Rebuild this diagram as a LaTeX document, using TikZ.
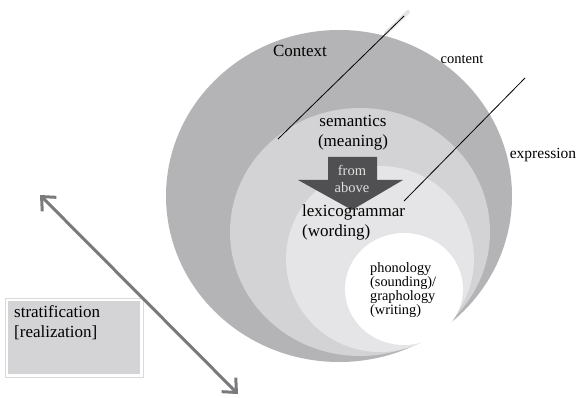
\documentclass[tikz,border=0pt]{standalone}
\usepackage{fontspec}
\setmainfont{Liberation Serif}
\usetikzlibrary{arrows.meta}
\definecolor{ctxgray}{RGB}{180,180,182}
\definecolor{semgray}{RGB}{211,211,213}
\definecolor{lexgray}{RGB}{229,229,231}
\definecolor{boxgray}{RGB}{212,212,214}
\definecolor{arrgray}{RGB}{122,122,124}
\definecolor{fromgray}{RGB}{80,80,82}
\begin{document}
\begin{tikzpicture}[x=1pt,y=-1pt,
    lbl/.style={inner sep=0pt,align=left},
    big/.style={font=\fontsize{17}{20}\selectfont},
    small/.style={font=\fontsize{14.5}{17}\selectfont}]
    \useasboundingbox (0,0) rectangle (578,398);
    % strata
    \fill [ctxgray] (339,196) ellipse [x radius=173,y radius=166];
    \fill [semgray] (360,232) ellipse [x radius=130,y radius=124];
    \fill [lexgray] (380,259) ellipse [x radius=94,y radius=93];
    \fill [white] (404,289) ellipse [x radius=59,y radius=56];

    % content / expression lines
    \coordinate (c1) at (278,139);
    \coordinate (c2) at (404,16);
    \coordinate (e1) at (404,201);
    \coordinate (e2) at (525,78);
    \draw [line width=4pt,gray!20,line cap=round] (386,33) -- (408,12);
    \draw [line width=0.8pt] (c1) -- (c2);
    \draw [line width=0.8pt] (e1) -- (e2);

    % from above
    \fill [fromgray] (328,157) -- (377,157) -- (377,180) -- (403,180) -- (352,210)
        -- (298,180) -- (328,180) -- cycle;
    \node [lbl,small,text=gray!25] (from) at (352,170) {from};
    \node [lbl,small,text=gray!25] (above) at (352,188) {above};

    \node [lbl,big] (ctx) at (300,51) {Context};
    \node [lbl,small] (cont) at (462,59) {content};
    \node [lbl,font=\fontsize{15.5}{18}\selectfont] (expr) at (543,155) {expression};
    \node [lbl,big,align=center] (sem) at (353,133) {semantics\\(meaning)};
    \node [lbl,big,anchor=north west] (lex) at (302,205) {lexicogrammar\\(wording)};
    \node [lbl,anchor=north west,font=\fontsize{14.3}{11.7}\selectfont] (phon) at (370,262)
        {phonology\\(sounding)/\\graphology\\(writing)};

    % stratification box
    \draw [gray!30,fill=white] (5,298) rectangle (143,377);
    \fill [boxgray] (8,301) rectangle (140,374);
    \node [lbl,big,anchor=north west] (strat) at (14,305) {stratification\\{}[realization]};

    \coordinate (up) at (40,195);
    \coordinate (down) at (238,394);
    \draw [arrgray,line width=3pt,{Straight Barb[length=11pt,width=20pt]}-{Straight Barb[length=11pt,width=20pt]}] (up) -- (down);
\end{tikzpicture}
\end{document}
